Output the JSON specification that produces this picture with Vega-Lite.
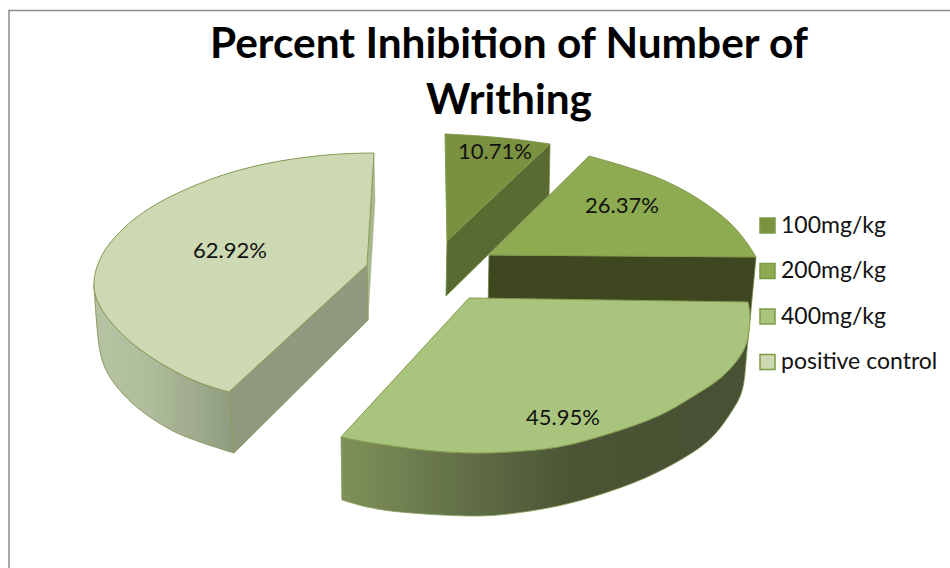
{
  "$schema": "https://vega.github.io/schema/vega-lite/v6.json",
  "width": 950,
  "height": 568,
  "padding": 0,
  "autosize": "none",
  "background": "#ffffff",
  "view": {"stroke": null},
  "title": {
    "text": ["Percent Inhibition of Number of", "Writhing"],
    "font": "Lato",
    "fontWeight": "bold",
    "fontSize": 42.4,
    "lineHeight": 56,
    "color": "#000000",
    "anchor": "middle",
    "frame": "group",
    "baseline": "alphabetic",
    "dx": 34,
    "dy": 156,
    "offset": 0
  },
  "config": {"font": "Lato"},
  "datasets": {
    "frame": [
      {"n": 1, "x": 9, "y": 568},
      {"n": 2, "x": 9, "y": 10.5},
      {"n": 3, "x": 950, "y": 10.5}
    ],
    "walls": [
      {"part": "control sliver", "n": 1, "x": 374, "y": 153},
      {"part": "control sliver", "n": 2, "x": 375, "y": 200},
      {"part": "control sliver", "n": 3, "x": 368, "y": 320},
      {"part": "control sliver", "n": 4, "x": 367, "y": 265},

      {"part": "control cut", "n": 1, "x": 229, "y": 392},
      {"part": "control cut", "n": 2, "x": 367, "y": 265},
      {"part": "control cut", "n": 3, "x": 368, "y": 320},
      {"part": "control cut", "n": 4, "x": 234, "y": 453},
      {"part": "control cut", "n": 5, "x": 229, "y": 392},

      {"part": "control rim", "n": 1, "x": 94, "y": 284},
      {"part": "control rim", "n": 2, "x": 95, "y": 294},
      {"part": "control rim", "n": 3, "x": 101, "y": 308},
      {"part": "control rim", "n": 4, "x": 110, "y": 321},
      {"part": "control rim", "n": 5, "x": 133, "y": 344},
      {"part": "control rim", "n": 6, "x": 167, "y": 367},
      {"part": "control rim", "n": 7, "x": 200, "y": 383},
      {"part": "control rim", "n": 8, "x": 229, "y": 392},
      {"part": "control rim", "n": 9, "x": 229, "y": 392},
      {"part": "control rim", "n": 10, "x": 234, "y": 453},
      {"part": "control rim", "n": 11, "x": 234, "y": 453},
      {"part": "control rim", "n": 12, "x": 200, "y": 442},
      {"part": "control rim", "n": 13, "x": 173, "y": 431},
      {"part": "control rim", "n": 14, "x": 143, "y": 412},
      {"part": "control rim", "n": 15, "x": 123, "y": 394},
      {"part": "control rim", "n": 16, "x": 107, "y": 372},
      {"part": "control rim", "n": 17, "x": 100, "y": 351},
      {"part": "control rim", "n": 18, "x": 94, "y": 284},

      {"part": "100 cut", "n": 1, "x": 550, "y": 144},
      {"part": "100 cut", "n": 2, "x": 447, "y": 241},
      {"part": "100 cut", "n": 3, "x": 446, "y": 296},
      {"part": "100 cut", "n": 4, "x": 549, "y": 195},
      {"part": "100 cut", "n": 5, "x": 550, "y": 144},

      {"part": "200 cut", "n": 1, "x": 489, "y": 255},
      {"part": "200 cut", "n": 2, "x": 756, "y": 257},
      {"part": "200 cut", "n": 3, "x": 750, "y": 320},
      {"part": "200 cut", "n": 4, "x": 488, "y": 310},
      {"part": "200 cut", "n": 5, "x": 489, "y": 255},

      {"part": "400 rim", "n": 1, "x": 750, "y": 317},
      {"part": "400 rim", "n": 2, "x": 745, "y": 347},
      {"part": "400 rim", "n": 3, "x": 725, "y": 374},
      {"part": "400 rim", "n": 4, "x": 692, "y": 397},
      {"part": "400 rim", "n": 5, "x": 658, "y": 416},
      {"part": "400 rim", "n": 6, "x": 608, "y": 434},
      {"part": "400 rim", "n": 7, "x": 558, "y": 447},
      {"part": "400 rim", "n": 8, "x": 508, "y": 452},
      {"part": "400 rim", "n": 9, "x": 475, "y": 453},
      {"part": "400 rim", "n": 10, "x": 433, "y": 451},
      {"part": "400 rim", "n": 11, "x": 393, "y": 446},
      {"part": "400 rim", "n": 12, "x": 360, "y": 441},
      {"part": "400 rim", "n": 13, "x": 341, "y": 437},
      {"part": "400 rim", "n": 14, "x": 341, "y": 437},
      {"part": "400 rim", "n": 15, "x": 342, "y": 500},
      {"part": "400 rim", "n": 16, "x": 342, "y": 500},
      {"part": "400 rim", "n": 17, "x": 367, "y": 507},
      {"part": "400 rim", "n": 18, "x": 400, "y": 512},
      {"part": "400 rim", "n": 19, "x": 475, "y": 516},
      {"part": "400 rim", "n": 20, "x": 508, "y": 514},
      {"part": "400 rim", "n": 21, "x": 558, "y": 506},
      {"part": "400 rim", "n": 22, "x": 608, "y": 492},
      {"part": "400 rim", "n": 23, "x": 658, "y": 472},
      {"part": "400 rim", "n": 24, "x": 708, "y": 441},
      {"part": "400 rim", "n": 25, "x": 732, "y": 411},
      {"part": "400 rim", "n": 26, "x": 742, "y": 391},
      {"part": "400 rim", "n": 27, "x": 747, "y": 351},
      {"part": "400 rim", "n": 28, "x": 750, "y": 317}
    ],
    "faces": [
      {"dose": "positive control", "n": 1, "x": 374, "y": 153},
      {"dose": "positive control", "n": 2, "x": 374, "y": 153},
      {"dose": "positive control", "n": 3, "x": 340, "y": 154},
      {"dose": "positive control", "n": 4, "x": 300, "y": 158},
      {"dose": "positive control", "n": 5, "x": 260, "y": 165},
      {"dose": "positive control", "n": 6, "x": 220, "y": 176},
      {"dose": "positive control", "n": 7, "x": 180, "y": 192},
      {"dose": "positive control", "n": 8, "x": 150, "y": 208},
      {"dose": "positive control", "n": 9, "x": 125, "y": 227},
      {"dose": "positive control", "n": 10, "x": 105, "y": 250},
      {"dose": "positive control", "n": 11, "x": 96, "y": 270},
      {"dose": "positive control", "n": 12, "x": 94, "y": 284},
      {"dose": "positive control", "n": 13, "x": 95, "y": 294},
      {"dose": "positive control", "n": 14, "x": 101, "y": 308},
      {"dose": "positive control", "n": 15, "x": 110, "y": 321},
      {"dose": "positive control", "n": 16, "x": 133, "y": 344},
      {"dose": "positive control", "n": 17, "x": 167, "y": 367},
      {"dose": "positive control", "n": 18, "x": 200, "y": 383},
      {"dose": "positive control", "n": 19, "x": 229, "y": 392},
      {"dose": "positive control", "n": 20, "x": 229, "y": 392},
      {"dose": "positive control", "n": 21, "x": 367, "y": 265},
      {"dose": "positive control", "n": 22, "x": 367, "y": 265},
      {"dose": "positive control", "n": 23, "x": 374, "y": 153},

      {"dose": "100mg/kg", "n": 1, "x": 445, "y": 134},
      {"dose": "100mg/kg", "n": 2, "x": 445, "y": 134},
      {"dose": "100mg/kg", "n": 3, "x": 480, "y": 136},
      {"dose": "100mg/kg", "n": 4, "x": 513, "y": 139},
      {"dose": "100mg/kg", "n": 5, "x": 550, "y": 144},
      {"dose": "100mg/kg", "n": 6, "x": 550, "y": 144},
      {"dose": "100mg/kg", "n": 7, "x": 447, "y": 241},
      {"dose": "100mg/kg", "n": 8, "x": 447, "y": 241},
      {"dose": "100mg/kg", "n": 9, "x": 445, "y": 134},

      {"dose": "200mg/kg", "n": 1, "x": 589, "y": 156},
      {"dose": "200mg/kg", "n": 2, "x": 589, "y": 156},
      {"dose": "200mg/kg", "n": 3, "x": 630, "y": 168},
      {"dose": "200mg/kg", "n": 4, "x": 663, "y": 180},
      {"dose": "200mg/kg", "n": 5, "x": 697, "y": 198},
      {"dose": "200mg/kg", "n": 6, "x": 730, "y": 223},
      {"dose": "200mg/kg", "n": 7, "x": 747, "y": 243},
      {"dose": "200mg/kg", "n": 8, "x": 756, "y": 257},
      {"dose": "200mg/kg", "n": 9, "x": 756, "y": 257},
      {"dose": "200mg/kg", "n": 10, "x": 489, "y": 255},
      {"dose": "200mg/kg", "n": 11, "x": 489, "y": 255},
      {"dose": "200mg/kg", "n": 12, "x": 589, "y": 156},

      {"dose": "400mg/kg", "n": 1, "x": 469, "y": 298},
      {"dose": "400mg/kg", "n": 2, "x": 469, "y": 298},
      {"dose": "400mg/kg", "n": 3, "x": 748, "y": 302},
      {"dose": "400mg/kg", "n": 4, "x": 748, "y": 302},
      {"dose": "400mg/kg", "n": 5, "x": 750, "y": 317},
      {"dose": "400mg/kg", "n": 6, "x": 745, "y": 347},
      {"dose": "400mg/kg", "n": 7, "x": 725, "y": 374},
      {"dose": "400mg/kg", "n": 8, "x": 692, "y": 397},
      {"dose": "400mg/kg", "n": 9, "x": 658, "y": 416},
      {"dose": "400mg/kg", "n": 10, "x": 608, "y": 434},
      {"dose": "400mg/kg", "n": 11, "x": 558, "y": 447},
      {"dose": "400mg/kg", "n": 12, "x": 508, "y": 452},
      {"dose": "400mg/kg", "n": 13, "x": 475, "y": 453},
      {"dose": "400mg/kg", "n": 14, "x": 433, "y": 451},
      {"dose": "400mg/kg", "n": 15, "x": 393, "y": 446},
      {"dose": "400mg/kg", "n": 16, "x": 360, "y": 441},
      {"dose": "400mg/kg", "n": 17, "x": 341, "y": 437},
      {"dose": "400mg/kg", "n": 18, "x": 341, "y": 437},
      {"dose": "400mg/kg", "n": 19, "x": 469, "y": 298}
    ],
    "labels": [
      {"dose": "100mg/kg", "inhibition": 0.1071, "x": 495, "y": 152},
      {"dose": "200mg/kg", "inhibition": 0.2637, "x": 622, "y": 206},
      {"dose": "400mg/kg", "inhibition": 0.4595, "x": 563, "y": 418},
      {"dose": "positive control", "inhibition": 0.6292, "x": 230, "y": 251}
    ]
  },
  "encoding": {
    "x": {"field": "x", "type": "quantitative", "axis": null, "scale": {"domain": [0, 950], "nice": false, "zero": false}},
    "y": {"field": "y", "type": "quantitative", "axis": null, "scale": {"domain": [0, 568], "reverse": true, "nice": false, "zero": false}},
    "order": {"field": "n", "type": "ordinal"}
  },
  "layer": [
    {
      "data": {"name": "frame"},
      "mark": {"type": "line", "stroke": "#8c8c8c", "strokeWidth": 1.5, "clip": false}
    },
    {
      "data": {"name": "walls"},
      "transform": [{"filter": {"field": "part", "equal": "control sliver"}}],
      "mark": {"type": "line", "fill": "#a9b78f", "stroke": "#a9b78f", "strokeWidth": 0.5}
    },
    {
      "data": {"name": "walls"},
      "transform": [{"filter": {"field": "part", "equal": "control cut"}}],
      "mark": {"type": "line", "fill": "#8f9a7e", "stroke": "#8c9a62", "strokeWidth": 1}
    },
    {
      "data": {"name": "walls"},
      "transform": [{"filter": {"field": "part", "equal": "control rim"}}],
      "mark": {
        "type": "line",
        "interpolate": "catmull-rom",
        "stroke": "#8c9a62",
        "strokeWidth": 1,
        "fill": {
          "gradient": "linear", "x1": 0, "x2": 1, "y1": 0, "y2": 0,
          "stops": [
            {"offset": 0, "color": "#b6c4a4"},
            {"offset": 0.4, "color": "#b0bd9c"},
            {"offset": 1, "color": "#8f9b7e"}
          ]
        }
      }
    },
    {
      "data": {"name": "walls"},
      "transform": [{"filter": {"field": "part", "equal": "100 cut"}}],
      "mark": {"type": "line", "fill": "#5a6b31", "stroke": "#6f8540", "strokeWidth": 0.8}
    },
    {
      "data": {"name": "walls"},
      "transform": [{"filter": {"field": "part", "equal": "200 cut"}}],
      "mark": {"type": "line", "fill": "#3e471f", "stroke": "#6f8540", "strokeWidth": 0.8}
    },
    {
      "data": {"name": "walls"},
      "transform": [{"filter": {"field": "part", "equal": "400 rim"}}],
      "mark": {
        "type": "line",
        "interpolate": "catmull-rom",
        "stroke": "#8aa05a",
        "strokeWidth": 0.8,
        "fill": {
          "gradient": "linear", "x1": 0, "x2": 1, "y1": 0, "y2": 0,
          "stops": [
            {"offset": 0, "color": "#7f9159"},
            {"offset": 0.33, "color": "#5f6c45"},
            {"offset": 0.56, "color": "#4b5535"},
            {"offset": 1, "color": "#475133"}
          ]
        }
      }
    },
    {
      "data": {"name": "faces"},
      "mark": {"type": "line", "interpolate": "catmull-rom", "stroke": "#84994f", "strokeWidth": 1},
      "encoding": {
        "fill": {
          "field": "dose",
          "type": "nominal",
          "scale": {
            "domain": ["100mg/kg", "200mg/kg", "400mg/kg", "positive control"],
            "range": ["#7a9140", "#8dab50", "#a9c47c", "#ccd9b2"]
          },
          "legend": {
            "title": null,
            "orient": "none",
            "legendX": 756,
            "legendY": 214,
            "symbolType": "square",
            "symbolSize": 225,
            "symbolStrokeWidth": 1.5,
            "symbolStrokeColor": "#7c9a45",
            "symbolOpacity": 1,
            "labelFont": "Lato",
            "labelFontSize": 23,
            "labelColor": "#111111",
            "labelOffset": 2,
            "labelLimit": 200,
            "rowPadding": 21.5
          }
        }
      }
    },
    {
      "data": {"name": "labels"},
      "mark": {"type": "text", "font": "Lato", "fontSize": 22, "color": "#111111", "align": "center", "baseline": "middle"},
      "encoding": {
        "text": {"field": "inhibition", "type": "quantitative", "format": ".2%"},
        "order": {"value": null}
      }
    }
  ]
}
